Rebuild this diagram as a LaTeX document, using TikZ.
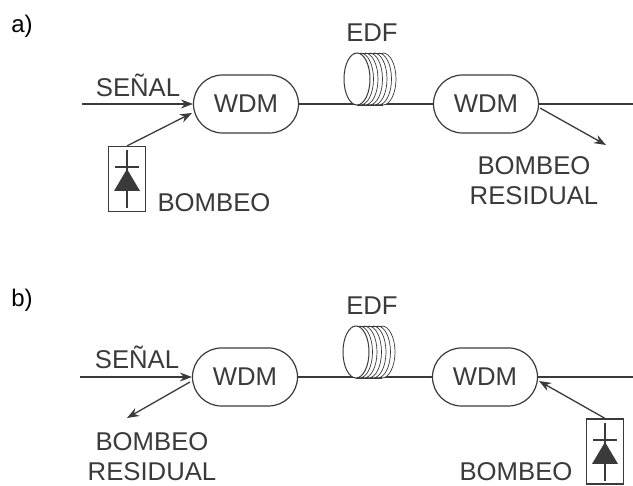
\documentclass[tikz,border=0pt]{standalone}
\usepackage{fontspec}
\setmainfont{Liberation Sans}
\usetikzlibrary{arrows.meta,shapes.misc}
\definecolor{ink}{HTML}{3A3A3A}
\tikzset{
 x=1pt,y=-1pt,
 wire/.style={draw=ink,line width=1.3pt},
 arrowline/.style={draw=ink,line width=1.3pt,-{Stealth[length=12pt,width=9pt]}},
 wdm/.style={draw=ink,line width=1.2pt,rounded rectangle,minimum width=105pt,minimum height=58pt,inner sep=0pt,font=\fontsize{25.7}{30}\selectfont,text=ink},
 lab/.style={font=\fontsize{25.7}{30}\selectfont,text=ink,inner sep=0pt,align=center},
 tag/.style={font=\fontsize{24}{28}\selectfont,text=black,inner sep=0pt},
 pumpbox/.style={draw=ink,line width=1.2pt,minimum width=37pt,minimum height=65pt,inner sep=0pt},
 coilring/.style={draw=ink,line width=.7pt},
}
\newcommand{\coil}[2]{%
 \begin{scope}[shift={(#1,#2)}]
  \foreach \dx in {26,21.5,17,12.5,8,3.5} {
   \draw[coilring,fill=white] (\dx,-26) arc[start angle=-90,end angle=90,x radius=13,y radius=26];
  }
  \draw[coilring] (0,-26) -- (26,-26);
  \draw[coilring] (0,26) -- (26,26);
  \draw[draw=ink,line width=1pt,fill=white] (0,0) ellipse[x radius=13,y radius=26];
 \end{scope}}
\newcommand{\diode}[2]{%
 \begin{scope}[shift={(#1,#2)}]
  \draw[wire] (0,-29) -- (0,29);
  \draw[wire] (-12,-12) -- (12,-12);
  \fill[ink] (0,-10) -- (13,12) -- (-13,12) -- cycle;
 \end{scope}}
\begin{document}
\begin{tikzpicture}
\useasboundingbox (0,0) rectangle (633,486);
% a)
\node[tag] (ta) at (22,26) {a)};
\coordinate (a0) at (82,104);
\node[wdm] (w1) at (246,104) {WDM};
\node[wdm] (w2) at (486,104) {WDM};
\coordinate (a1) at (633,104);
\coordinate (a2) at (606,145);
\draw[arrowline] (a0) -- (w1.west);
\draw[wire] (w1.east) -- (w2.west);
\draw[wire] (w2.east) -- (a1);
\coil{357}{79}
\node[lab] (ea) at (372,33) {EDF};
\node[lab] (sa) at (138,85) {SEÑAL};
\node[pumpbox] (pa) at (127,179) {};
\diode{127}{179}
\draw[arrowline] (pa.north) -- (192,113);
\draw[arrowline] (540,108) -- (a2);
\node[lab] (ba) at (214,203) {BOMBEO};
\node[lab] (ra) at (534,181) {BOMBEO\\RESIDUAL};
% b)
\node[tag] (tb) at (22,300) {b)};
\coordinate (b0) at (80,377);
\node[wdm] (w3) at (245,377) {WDM};
\node[wdm] (w4) at (485,377) {WDM};
\coordinate (b1) at (633,377);
\coordinate (b2) at (127,418);
\draw[arrowline] (b0) -- (w3.west);
\draw[wire] (w3.east) -- (w4.west);
\draw[wire] (w4.east) -- (b1);
\coil{356}{352}
\node[lab] (eb) at (372,306) {EDF};
\node[lab] (sb) at (137,357) {SEÑAL};
\draw[arrowline] (190,382) -- (b2);
\node[lab] (rb) at (152,457) {BOMBEO\\RESIDUAL};
\node[pumpbox] (pb) at (605,451.5) {};
\diode{605}{452}
\draw[arrowline] (pb.north) -- (539,381);
\node[lab,anchor=base] (bb) at (516,481) {BOMBEO};
\end{tikzpicture}
\end{document}
